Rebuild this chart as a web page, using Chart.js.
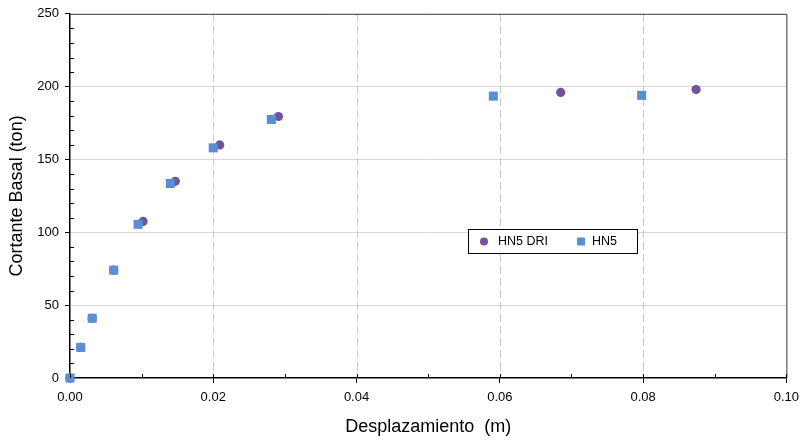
<!DOCTYPE html>
<html>
<head>
<meta charset="utf-8">
<script src="https://cdn.jsdelivr.net/npm/chart.js@4/dist/chart.umd.min.js"></script>
<style>
  html, body { margin: 0; padding: 0; background: #fff; }
  #wrap { width: 806px; height: 448px; }
</style>
</head>
<body>
<div id="wrap"><canvas id="chart" width="806" height="448"></canvas></div>
<script>
// data
const driX = [0, 0.0015, 0.0031, 0.0061, 0.0102, 0.0147, 0.0209, 0.0291, 0.0685, 0.0874];
const driY = [0, 21, 41, 74, 107.5, 135, 160, 179.5, 196, 198];
const hn5X = [0, 0.0015, 0.0031, 0.0061, 0.0095, 0.0140, 0.0200, 0.0281, 0.0591, 0.0798];
const hn5Y = [0, 21, 41, 74, 105.5, 133.5, 158, 177.5, 193.5, 194];
const seriesNames = ["HN5 DRI", "HN5"];
const xTicks = [0, 0.02, 0.04, 0.06, 0.08, 0.10];
const yTicks = [0, 50, 100, 150, 200, 250];
const xMinor = [0.01, 0.03, 0.05, 0.07, 0.09];
const yMinor = [10, 20, 30, 40, 60, 70, 80, 90, 110, 120, 130, 140, 160, 170, 180, 190, 210, 220, 230, 240];

const FONT = "'Liberation Sans', Arial, sans-serif";
const PURPLE = "#71549a";
const BLUE = "#5a8fd8";

const toPts = (xs, ys) => xs.map((x, i) => ({ x, y: ys[i] }));

// dashed vertical grid, frame, minor ticks and the boxed legend
const decor = {
  id: "decor",
  beforeDatasetsDraw(chart) {
    const { ctx, chartArea: ca, scales: { x } } = chart;
    ctx.save();
    ctx.strokeStyle = "#c8c8c8";
    ctx.lineWidth = 1;
    ctx.setLineDash([8, 4]);
    ctx.beginPath();
    xTicks.slice(1, -1).forEach((v) => {
      const px = Math.round(x.getPixelForValue(v)) + 0.5;
      ctx.moveTo(px, ca.top);
      ctx.lineTo(px, ca.bottom);
    });
    ctx.stroke();
    ctx.restore();
  },
  afterDraw(chart) {
    const { ctx, chartArea: ca, scales: { x, y } } = chart;
    ctx.save();
    ctx.strokeStyle = "#333";
    ctx.lineWidth = 1;
    ctx.beginPath();
    ctx.moveTo(ca.left, ca.top + 0.5);
    ctx.lineTo(ca.right + 0.5, ca.top + 0.5);
    ctx.lineTo(ca.right + 0.5, ca.bottom);
    ctx.stroke();

    ctx.strokeStyle = "#000";
    ctx.beginPath();
    yMinor.forEach((v) => {
      const py = Math.round(y.getPixelForValue(v)) + 0.5;
      ctx.moveTo(ca.left, py);
      ctx.lineTo(ca.left + 4, py);
    });
    xMinor.concat(xTicks).forEach((v) => {
      const px = Math.round(x.getPixelForValue(v)) + 0.5;
      ctx.moveTo(px, ca.bottom);
      ctx.lineTo(px, ca.bottom - 4);
    });
    ctx.stroke();

    // legend box
    const lx = 468, ly = 229, lw = 169, lh = 24;
    ctx.fillStyle = "#fff";
    ctx.fillRect(lx, ly, lw, lh);
    ctx.strokeStyle = "#000";
    ctx.strokeRect(lx + 0.5, ly + 0.5, lw, lh);
    const cy = ly + lh / 2 + 0.5;
    ctx.fillStyle = PURPLE;
    ctx.beginPath();
    ctx.arc(484, cy, 4, 0, Math.PI * 2);
    ctx.fill();
    ctx.fillStyle = BLUE;
    ctx.fillRect(577, cy - 4, 8, 8);
    ctx.fillStyle = "#000";
    ctx.font = "12.5px " + FONT;
    ctx.textBaseline = "middle";
    ctx.textAlign = "left";
    ctx.fillText(seriesNames[0], 498, cy);
    ctx.fillText(seriesNames[1], 592, cy);
    ctx.restore();
  },
};

new Chart(document.getElementById("chart").getContext("2d"), {
  type: "scatter",
  data: {
    datasets: [
      { label: seriesNames[0], data: toPts(driX, driY), pointStyle: "circle", pointRadius: 4.6,
        backgroundColor: PURPLE, borderColor: PURPLE, borderWidth: 0, order: 1, clip: false },
      { label: seriesNames[1], data: toPts(hn5X, hn5Y), pointStyle: "rect", pointRadius: 6.4,
        backgroundColor: BLUE, borderColor: BLUE, borderWidth: 0, order: 0, clip: false },
    ],
  },
  options: {
    responsive: false,
    animation: false,
    layout: { padding: { left: 0, right: 17, top: 12, bottom: 0 } },
    plugins: { legend: { display: false }, tooltip: { enabled: false } },
    scales: {
      x: {
        type: "linear",
        min: 0,
        max: 0.1,
        afterFit: (s) => { s.height = 70; },
        afterBuildTicks: (s) => { s.ticks = xTicks.map((v) => ({ value: v })); },
        border: { color: "#000", width: 1.5 },
        grid: {
          drawOnChartArea: false,
          tickColor: "#000",
          tickLength: 5,
        },
        ticks: {
          color: "#000",
          padding: 7,
          maxRotation: 0,
          font: { family: FONT, size: 13 },
          callback: (v) => Number(v).toFixed(2),
        },
        title: {
          display: true,
          text: "Desplazamiento  (m)",
          color: "#000",
          font: { family: FONT, size: 18 },
          padding: { top: 0, bottom: 10 },
        },
      },
      y: {
        type: "linear",
        min: 0,
        max: 250,
        afterFit: (s) => { s.width = 70; },
        afterBuildTicks: (s) => { s.ticks = yTicks.map((v) => ({ value: v })); },
        border: { color: "#000", width: 1.5 },
        grid: {
          color: (c) => (c.tick && (c.tick.value === 0 || c.tick.value === 250) ? "rgba(0,0,0,0)" : "#d6d6d6"),
          tickColor: "#000",
          tickLength: 5,
        },
        ticks: {
          color: "#000",
          padding: 6,
          font: { family: FONT, size: 13 },
        },
        title: {
          display: true,
          text: "Cortante Basal (ton)",
          color: "#000",
          font: { family: FONT, size: 18 },
          padding: { top: 6, bottom: 0 },
        },
      },
    },
  },
  plugins: [decor],
});
</script>
</body>
</html>
